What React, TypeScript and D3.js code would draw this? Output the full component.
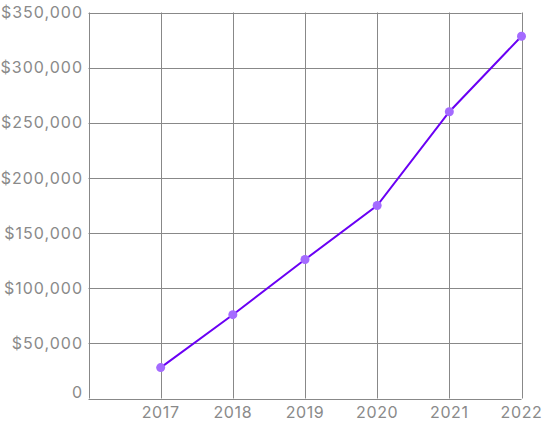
import React, { useEffect, useRef } from "react";
import * as d3 from "d3";

const years = [2017, 2018, 2019, 2020, 2021, 2022];
const values = [28000, 76000, 126000, 175000, 260000, 328500];
const yTicks = [0, 50000, 100000, 150000, 200000, 250000, 300000, 350000];

const W = 544;
const H = 426;
const M = { left: 88.5, right: 22.5, top: 12.5, bottom: 27.5 };

export default function App() {
  const ref = useRef<SVGSVGElement | null>(null);
  useEffect(() => {
    const svg = d3.select(ref.current);
    svg.selectAll("*").remove();
    const x = d3.scaleLinear().domain([2016, 2022]).range([M.left, W - M.right]);
    const y = d3.scaleLinear().domain([0, 350000]).range([H - M.bottom, M.top]);
    const grid = "#888888";
    const font = "Inter, 'Noto Sans', sans-serif";

    const g = svg.append("g");
    g.selectAll("line.h")
      .data(yTicks)
      .join("line")
      .attr("x1", M.left)
      .attr("x2", W - M.right)
      .attr("y1", (d) => Math.round(y(d)) + 0.5)
      .attr("y2", (d) => Math.round(y(d)) + 0.5)
      .attr("stroke", grid)
      .attr("stroke-width", 1);
    const xs = [2016, ...years];
    g.selectAll("line.v")
      .data(xs)
      .join("line")
      .attr("x1", (d) => Math.round(x(d)) + 0.5)
      .attr("x2", (d) => Math.round(x(d)) + 0.5)
      .attr("y1", M.top)
      .attr("y2", H - M.bottom)
      .attr("stroke", grid)
      .attr("stroke-width", 1);

    const fmt = (v: number) => (v === 0 ? "0" : "$" + d3.format(",")(v));
    g.selectAll("text.y")
      .data(yTicks)
      .join("text")
      .attr("x", 83)
      .attr("y", (d) => (d === 0 ? y(d) - 6 : y(d)))
      .attr("dy", "0.35em")
      .attr("text-anchor", "end")
      .attr("fill", "#8a8a8a")
      .attr("font-family", font)
      .attr("font-size", 16)
      .attr("letter-spacing", 1)
      .text(fmt);

    g.selectAll("text.x")
      .data(years)
      .join("text")
      .attr("x", (d) => x(d))
      .attr("y", 412.5)
      .attr("dy", "0.35em")
      .attr("text-anchor", "middle")
      .attr("fill", "#8a8a8a")
      .attr("font-family", font)
      .attr("font-size", 16)
      .attr("letter-spacing", 0.6)
      .text((d) => String(d));

    const line = d3
      .line<number>()
      .x((_, i) => x(years[i]))
      .y((d) => y(d));
    g.append("path")
      .attr("d", line(values))
      .attr("fill", "none")
      .attr("stroke", "#6a00f4")
      .attr("stroke-width", 2);

    g.selectAll("circle")
      .data(values)
      .join("circle")
      .attr("cx", (_, i) => x(years[i]))
      .attr("cy", (d) => y(d))
      .attr("r", 4.5)
      .attr("fill", "#a46bff");
  }, []);
  return (
    <svg
      ref={ref}
      width={W}
      height={H}
      style={{ position: "absolute", left: 0, top: 0, background: "#fff" }}
    />
  );
}
